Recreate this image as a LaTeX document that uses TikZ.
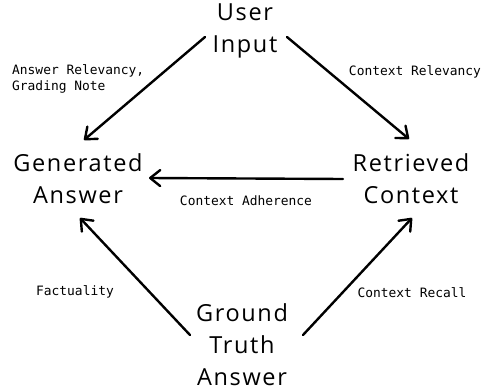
\documentclass[tikz,border=0pt]{standalone}
\usepackage{fontspec}
\setmainfont[LetterSpace=7]{Open Sans}
\newfontfamily\labfont{DejaVu Sans Mono}
\usetikzlibrary{arrows.meta}
\tikzset{
  big/.style={font=\fontsize{23.5}{32}\selectfont, align=center, inner sep=0pt},
  lab/.style={font=\labfont\fontsize{12.9}{16}\selectfont, inner sep=0pt},
  arr/.style={line width=2.4pt, line cap=round, line join=round,
    -{Straight Barb[length=10pt,width=16pt,line width=2.4pt, round]}}
}
\begin{document}
\begin{tikzpicture}[x=1pt,y=-1pt]
\useasboundingbox (0,0) rectangle (486,390);
\node[big] (ui) at (245,31) {User\\Input};
\node[big] (ga) at (78,179) {Generated\\Answer};
\node[big] (rc) at (411,179) {Retrieved\\Context};
\node[big] (gt) at (242,345) {Ground\\Truth\\Answer};

\node[lab, anchor=west, align=left] (l1) at (12,79) {Answer Relevancy,\\Grading Note};
\node[lab] (l2) at (415,72) {Context Relevancy};
\node[lab] (l3) at (246,201) {Context Adherence};
\node[lab] (l4) at (75,292) {Factuality};
\node[lab] (l5) at (412,293) {Context Recall};

\draw[arr] ([shift={(-40,6)}]ui.center) -- ([shift={(6,-39)}]ga.center);
\draw[arr] ([shift={(42,6)}]ui.center) -- ([shift={(-2,-40)}]rc.center);
\draw[arr] ([shift={(-68,0)}]rc.center) -- ([shift={(71,-1)}]ga.center);
\draw[arr] ([shift={(-52,-10)}]gt.center) -- ([shift={(2,39)}]ga.center);
\draw[arr] ([shift={(61,-10)}]gt.center) -- ([shift={(1,39)}]rc.center);
\end{tikzpicture}
\end{document}
